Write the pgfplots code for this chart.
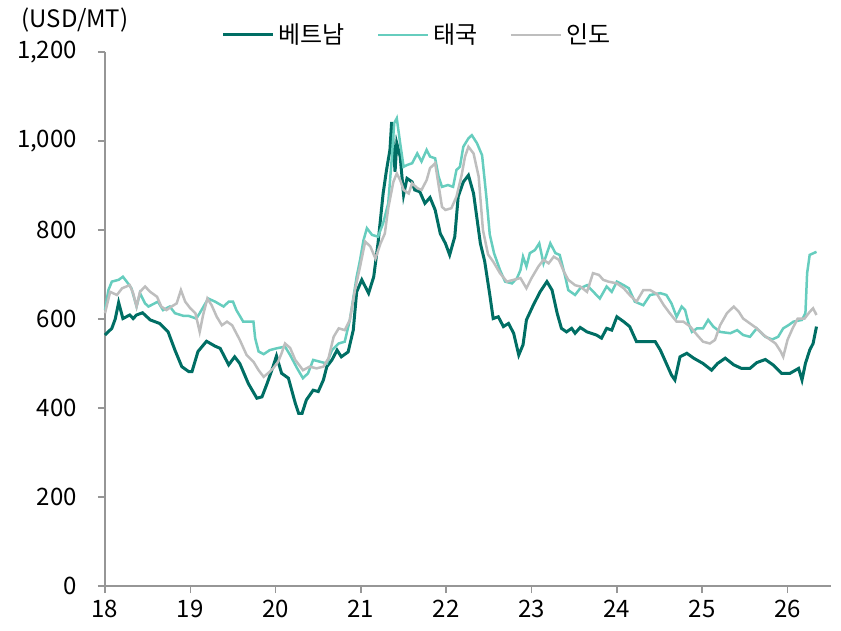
\documentclass[border=0pt]{standalone}
\usepackage{fontspec}
\setmainfont{Noto Sans CJK KR}
\usepackage{pgfplots}
\pgfplotsset{compat=1.18}
\definecolor{cvn}{RGB}{0,110,100}
\definecolor{cth}{RGB}{102,205,190}
\definecolor{cin}{RGB}{190,190,190}
\definecolor{axg}{RGB}{150,150,150}
\begin{document}
\begin{tikzpicture}
\begin{axis}[
  at={(0,0)}, anchor=south west,
  scale only axis, width=363bp, height=267bp,
  xmin=18, xmax=26.51, ymin=0, ymax=1200,
  axis x line*=bottom, axis y line*=left,
  axis line style={axg, line width=0.8bp},
  xtick={18,...,26}, ytick={0,200,...,1200},
  tick align=outside, major tick length=3.5bp,
  tick style={axg, line width=0.8bp},
  xtick pos=bottom, ytick pos=left,
  /pgf/number format/assume math mode=true,
  /pgf/number format/1000 sep={,},
  ticklabel style={font=\fontsize{12bp}{14bp}\selectfont},
  yticklabel style={xshift=-7bp},
  legend style={at={(0.431,1.032)}, anchor=center, draw=none, fill=none,
    font=\fontsize{12bp}{14bp}\selectfont, legend columns=3,
    /tikz/every even column/.append style={column sep=14bp}},
  legend image code/.code={\draw[#1] (0bp,0bp) -- (25bp,0bp);},
  clip=false,
]
\addplot[cvn, line width=1.5bp] coordinates {
(18.00,564)(18.08,579)(18.12,600)(18.16,637)(18.21,601)(18.29,609)(18.33,601)(18.37,609)(18.44,614)(18.53,598)(18.64,590)(18.74,571)(18.82,530)(18.90,493)(18.98,482)(19.02,482)(19.09,527)(19.19,550)(19.29,539)(19.35,534)(19.45,497)(19.52,515)(19.58,500)(19.68,455)(19.78,422)(19.84,425)(19.90,455)(19.97,493)(20.01,517)(20.07,478)(20.15,467)(20.23,411)(20.27,388)(20.31,388)(20.36,418)(20.44,440)(20.50,437)(20.56,463)(20.60,493)(20.66,508)(20.72,530)(20.77,515)(20.85,526)(20.91,575)(20.95,661)(21.01,688)(21.09,658)(21.15,695)(21.20,770)(21.26,882)(21.30,935)(21.34,980)(21.36,1043)(21.40,931)(21.42,995)(21.46,965)(21.50,879)(21.54,916)(21.60,908)(21.63,890)(21.69,886)(21.75,860)(21.81,873)(21.87,845)(21.93,792)(21.99,770)(22.04,744)(22.10,785)(22.14,875)(22.20,908)(22.26,923)(22.32,882)(22.40,770)(22.45,730)(22.51,655)(22.55,601)(22.61,605)(22.67,583)(22.73,590)(22.79,568)(22.85,519)(22.90,542)(22.94,598)(23.02,631)(23.10,661)(23.18,684)(23.24,665)(23.30,613)(23.35,579)(23.41,571)(23.47,579)(23.51,568)(23.57,581)(23.65,571)(23.76,564)(23.82,557)(23.88,579)(23.94,575)(24.00,605)(24.08,594)(24.15,583)(24.23,549)(24.29,549)(24.45,549)(24.51,530)(24.58,500)(24.64,474)(24.68,463)(24.74,515)(24.82,523)(24.90,512)(25.01,500)(25.11,485)(25.18,500)(25.27,512)(25.37,497)(25.46,489)(25.56,489)(25.64,502)(25.74,509)(25.83,497)(25.93,478)(26.03,478)(26.13,489)(26.17,463)(26.21,500)(26.26,530)(26.30,545)(26.34,583)
};
\addlegendentry{베트남}
\addplot[cth, line width=1.25bp] coordinates {
(18.00,620)(18.04,665)(18.08,684)(18.16,688)(18.21,695)(18.27,680)(18.31,669)(18.37,628)(18.41,658)(18.47,635)(18.51,628)(18.62,639)(18.68,620)(18.76,628)(18.82,613)(18.92,607)(18.98,607)(19.07,601)(19.11,613)(19.21,646)(19.29,639)(19.39,628)(19.45,639)(19.50,639)(19.54,620)(19.62,594)(19.74,594)(19.76,557)(19.80,527)(19.86,521)(19.93,530)(20.01,534)(20.11,538)(20.17,519)(20.25,490)(20.32,467)(20.38,478)(20.44,508)(20.52,504)(20.60,500)(20.66,530)(20.74,545)(20.81,549)(20.87,598)(20.95,695)(20.99,733)(21.03,777)(21.07,804)(21.13,789)(21.20,785)(21.26,815)(21.32,860)(21.36,957)(21.39,1040)(21.42,1051)(21.46,995)(21.50,942)(21.54,946)(21.60,950)(21.66,972)(21.71,954)(21.77,980)(21.81,965)(21.87,961)(21.91,920)(21.95,897)(22.02,901)(22.08,897)(22.12,935)(22.16,942)(22.20,987)(22.26,1006)(22.30,1013)(22.36,995)(22.42,968)(22.47,875)(22.51,790)(22.56,748)(22.63,710)(22.69,684)(22.77,680)(22.83,692)(22.87,710)(22.90,740)(22.94,718)(22.98,748)(23.04,755)(23.09,770)(23.14,725)(23.22,770)(23.28,748)(23.33,744)(23.39,699)(23.43,665)(23.51,654)(23.57,669)(23.65,676)(23.74,658)(23.80,646)(23.88,673)(23.94,661)(24.00,684)(24.08,676)(24.14,669)(24.21,639)(24.31,631)(24.39,654)(24.51,658)(24.58,654)(24.64,635)(24.70,605)(24.76,628)(24.80,620)(24.84,590)(24.88,571)(24.94,579)(25.01,579)(25.07,598)(25.13,583)(25.21,571)(25.33,568)(25.41,575)(25.48,564)(25.56,560)(25.64,579)(25.74,560)(25.82,554)(25.89,560)(25.95,579)(26.01,586)(26.07,594)(26.17,598)(26.21,613)(26.23,703)(26.26,744)(26.34,751)
};
\addlegendentry{태국}
\addplot[cin, line width=1.25bp] coordinates {
(18.00,613)(18.06,661)(18.14,654)(18.20,669)(18.25,673)(18.29,676)(18.33,658)(18.37,628)(18.41,661)(18.47,673)(18.53,661)(18.61,650)(18.66,628)(18.72,620)(18.78,628)(18.84,635)(18.89,665)(18.94,639)(19.00,624)(19.06,613)(19.11,571)(19.15,609)(19.20,646)(19.25,631)(19.31,605)(19.37,586)(19.43,594)(19.49,586)(19.52,575)(19.58,553)(19.66,519)(19.74,504)(19.80,485)(19.86,470)(19.91,478)(19.97,489)(20.03,504)(20.07,523)(20.11,545)(20.17,535)(20.23,508)(20.29,493)(20.32,485)(20.40,493)(20.48,489)(20.56,493)(20.62,512)(20.68,560)(20.74,579)(20.81,575)(20.87,598)(20.93,665)(20.99,718)(21.05,774)(21.11,763)(21.17,736)(21.23,770)(21.28,792)(21.32,849)(21.38,908)(21.42,927)(21.46,912)(21.50,890)(21.56,882)(21.60,905)(21.66,894)(21.71,890)(21.77,912)(21.81,939)(21.87,950)(21.91,901)(21.95,852)(21.99,845)(22.06,849)(22.12,875)(22.18,923)(22.22,965)(22.26,987)(22.32,972)(22.38,920)(22.43,800)(22.49,745)(22.55,729)(22.63,703)(22.71,684)(22.79,688)(22.87,692)(22.94,669)(23.00,692)(23.08,718)(23.14,733)(23.20,725)(23.26,740)(23.32,733)(23.38,706)(23.43,688)(23.51,676)(23.57,673)(23.65,661)(23.72,703)(23.79,699)(23.84,688)(23.90,684)(24.00,680)(24.08,669)(24.15,654)(24.23,639)(24.31,665)(24.39,665)(24.47,656)(24.55,631)(24.62,613)(24.70,594)(24.78,594)(24.86,583)(24.94,564)(25.01,549)(25.09,545)(25.15,553)(25.21,586)(25.29,613)(25.37,628)(25.43,616)(25.48,601)(25.56,590)(25.64,579)(25.72,564)(25.80,553)(25.86,545)(25.92,527)(25.95,515)(26.00,553)(26.06,579)(26.12,601)(26.20,601)(26.26,616)(26.30,624)(26.34,609)
};
\addlegendentry{인도}
\end{axis}
\node[font=\fontsize{12bp}{14bp}\selectfont] at (-15bp,283bp) {(USD/MT)};
\pgfresetboundingbox
\path[use as bounding box] (-52.5bp,-22.5bp) rectangle (368bp,293bp);
\end{tikzpicture}
\end{document}
